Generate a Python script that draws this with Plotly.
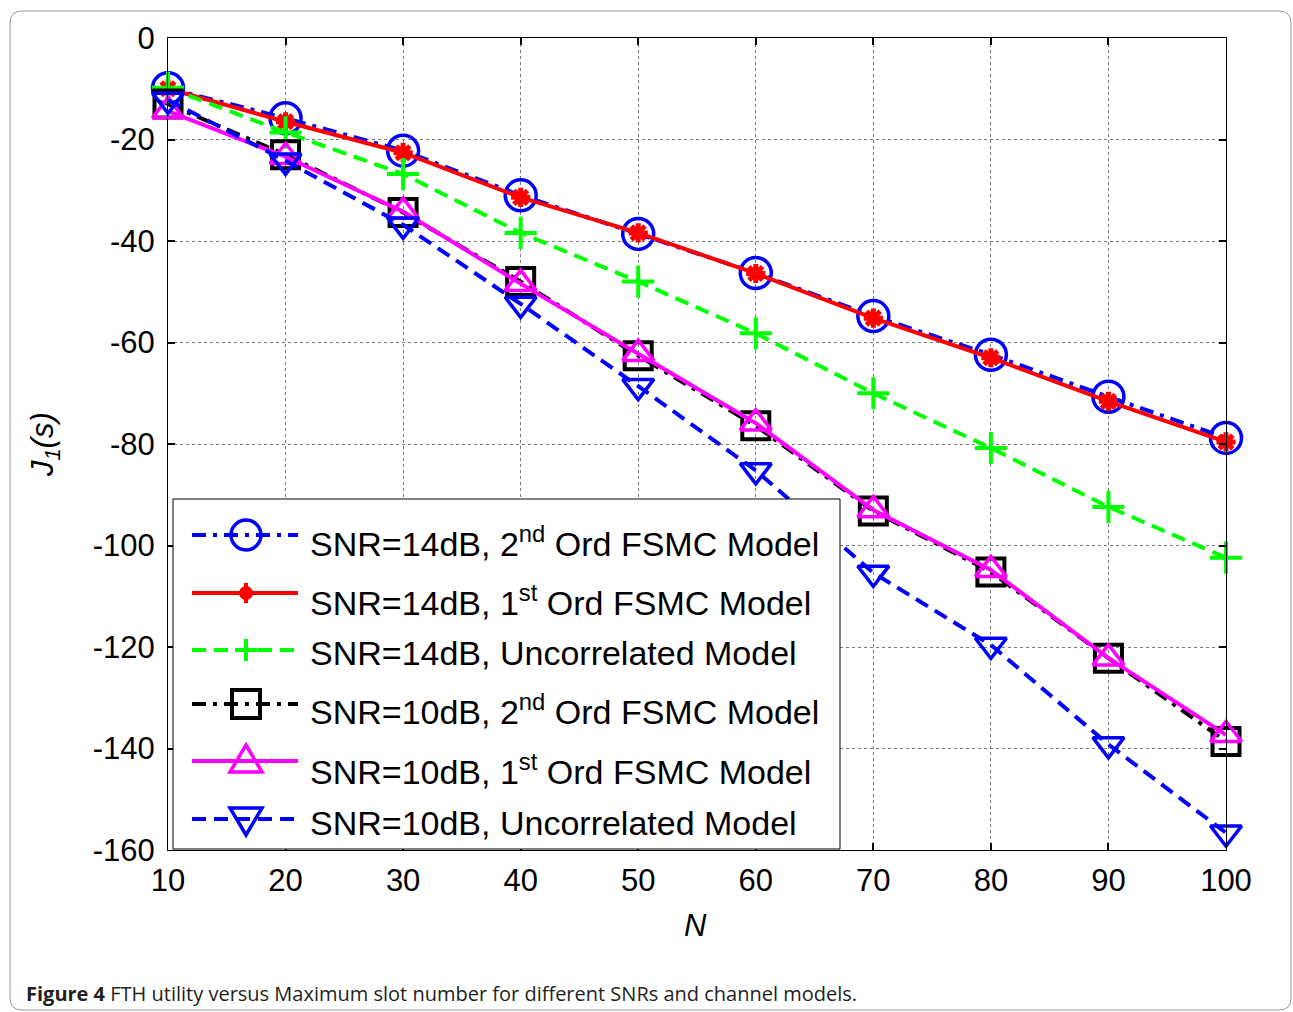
import plotly.graph_objects as go

# ---------------- data ----------------
N = [10, 20, 30, 40, 50, 60, 70, 80, 90, 100]
snr14_2nd = [-9.9, -15.8, -22.2, -31.0, -38.6, -46.3, -54.8, -62.4, -70.7, -78.8]
snr14_1st = [-10.0, -16.5, -22.6, -31.4, -38.4, -46.4, -55.2, -63.0, -71.6, -79.6]
snr14_unc = [-9.8, -18.6, -26.8, -38.4, -48.0, -58.2, -70.0, -80.8, -92.4, -102.4]
snr10_2nd = [-13.0, -23.0, -34.4, -48.0, -62.6, -76.4, -93.2, -105.2, -122.2, -138.6]
snr10_1st = [-14.4, -23.4, -34.2, -48.4, -62.2, -75.9, -93.0, -104.8, -122.2, -137.3]
snr10_unc = [-12.2, -24.2, -36.8, -52.4, -68.6, -85.2, -105.4, -119.6, -139.2, -156.6]

labels = [
    "SNR=14dB, 2<sup>nd</sup> Ord FSMC Model",
    "SNR=14dB, 1<sup>st</sup> Ord FSMC Model",
    "SNR=14dB, Uncorrelated Model",
    "SNR=10dB, 2<sup>nd</sup> Ord FSMC Model",
    "SNR=10dB, 1<sup>st</sup> Ord FSMC Model",
    "SNR=10dB, Uncorrelated Model",
]
xticks = [10, 20, 30, 40, 50, 60, 70, 80, 90, 100]
yticks = [0, -20, -40, -60, -80, -100, -120, -140, -160]
ytick_text = ["0", "-20", "-40", "-60", "-80", "-100", "-120", "-140", "-160"]

# ---------------- geometry helpers ----------------
W, H = 1293, 1012
L, R, T, B = 168, 1226, 38, 850
PW, PH = R - L, B - T


def px(x):
    return (x - L) / PW


def py(y):
    return (B - y) / PH


BLUE = "#0000FF"
RED = "#FF0000"
GREEN = "#00FF00"
BLACK = "#000000"
MAG = "#FF00FF"

DASHDOT = "14px,7px,4px,7px"
DASH = "14px,8px"

series = [
    dict(y=snr14_2nd, color=BLUE, dash=DASHDOT, symbol="circle-open", size=31, mw=3.5),
    dict(y=snr14_1st, color=RED, dash="solid", symbol="asterisk-open", size=16, mw=5),
    dict(y=snr14_unc, color=GREEN, dash=DASH, symbol="cross-thin-open", size=23, mw=4),
    dict(y=snr10_2nd, color=BLACK, dash=DASHDOT, symbol="square-open", size=27, mw=4),
    dict(y=snr10_1st, color=MAG, dash="solid", symbol="triangle-up-open", size=27, mw=3.5),
    dict(y=snr10_unc, color=BLUE, dash=DASH, symbol="triangle-down-open", size=27, mw=3.5),
]

fig = go.Figure()
for s, name in zip(series, labels):
    fig.add_trace(go.Scatter(
        x=N, y=s["y"], mode="lines+markers", name=name, showlegend=False,
        cliponaxis=False,
        line=dict(color=s["color"], width=4, dash=s["dash"]),
        marker=dict(symbol=s["symbol"], size=s["size"], color=s["color"],
                    line=dict(color=s["color"], width=s["mw"])),
    ))

shapes = []
annotations = []

# outer frame (rounded)
fl, ft, fr, fb, rr = 10, 11, 1291, 1010, 12
path = (f"M {px(fl)},{py(fb - rr)} L {px(fl)},{py(ft + rr)} "
        f"Q {px(fl)},{py(ft)} {px(fl + rr)},{py(ft)} L {px(fr - rr)},{py(ft)} "
        f"Q {px(fr)},{py(ft)} {px(fr)},{py(ft + rr)} L {px(fr)},{py(fb - rr)} "
        f"Q {px(fr)},{py(fb)} {px(fr - rr)},{py(fb)} L {px(fl + rr)},{py(fb)} "
        f"Q {px(fl)},{py(fb)} {px(fl)},{py(fb - rr)} Z")
shapes.append(dict(type="path", xref="paper", yref="paper", path=path,
                   line=dict(color="#9a9a9a", width=1), layer="below"))

# legend box
shapes.append(dict(type="rect", xref="paper", yref="paper",
                   x0=px(173), x1=px(840), y0=py(849), y1=py(499),
                   fillcolor="white", line=dict(color=BLACK, width=1), layer="above"))

row_line_y = [535, 593, 650, 704, 761, 819]
row_text_y = [541, 600, 653, 709, 769, 823]
lx0, lx1, lxm = 192, 298, 246

for i, (s, name) in enumerate(zip(series, labels)):
    yy = row_line_y[i]
    shapes.append(dict(type="line", xref="paper", yref="paper",
                       x0=px(lx0), x1=px(lx1), y0=py(yy), y1=py(yy),
                       line=dict(color=s["color"], width=4, dash=s["dash"]), layer="above"))
    c = s["color"]
    if i == 0:
        r = 15
        shapes.append(dict(type="circle", xref="paper", yref="paper",
                           x0=px(lxm - r), x1=px(lxm + r), y0=py(yy + r), y1=py(yy - r),
                           line=dict(color=c, width=3.5), layer="above"))
    elif i == 1:
        r = 6
        shapes.append(dict(type="circle", xref="paper", yref="paper",
                           x0=px(lxm - r), x1=px(lxm + r), y0=py(yy + r), y1=py(yy - r),
                           fillcolor=c, line=dict(color=c, width=2), layer="above"))
        p = (f"M {px(lxm)},{py(yy - 10)} L {px(lxm)},{py(yy + 10)} "
             f"M {px(lxm - 8)},{py(yy)} L {px(lxm + 8)},{py(yy)}")
        shapes.append(dict(type="path", xref="paper", yref="paper", path=p,
                           line=dict(color=c, width=4), layer="above"))
    elif i == 2:
        p = (f"M {px(lxm)},{py(yy - 11)} L {px(lxm)},{py(yy + 11)} "
             f"M {px(lxm - 11)},{py(yy)} L {px(lxm + 11)},{py(yy)}")
        shapes.append(dict(type="path", xref="paper", yref="paper", path=p,
                           line=dict(color=c, width=4), layer="above"))
    elif i == 3:
        r = 14
        shapes.append(dict(type="rect", xref="paper", yref="paper",
                           x0=px(lxm - r), x1=px(lxm + r), y0=py(yy + r), y1=py(yy - r),
                           line=dict(color=c, width=4), layer="above"))
    elif i == 4:
        p = (f"M {px(lxm)},{py(yy - 16)} L {px(lxm + 16)},{py(yy + 11)} "
             f"L {px(lxm - 16)},{py(yy + 11)} Z")
        shapes.append(dict(type="path", xref="paper", yref="paper", path=p,
                           line=dict(color=c, width=3.5), layer="above"))
    else:
        p = (f"M {px(lxm)},{py(yy + 16)} L {px(lxm + 16)},{py(yy - 11)} "
             f"L {px(lxm - 16)},{py(yy - 11)} Z")
        shapes.append(dict(type="path", xref="paper", yref="paper", path=p,
                           line=dict(color=c, width=3.5), layer="above"))
    annotations.append(dict(xref="paper", yref="paper", x=px(308), y=py(row_text_y[i]),
                            xanchor="left", yanchor="middle", text=name, showarrow=False,
                            font=dict(family="Liberation Sans, Arial", size=34, color=BLACK)))

# axis titles
annotations.append(dict(xref="paper", yref="paper", x=px(695), y=py(925), text="<i>N</i>",
                        showarrow=False, xanchor="center", yanchor="middle",
                        font=dict(family="Liberation Sans, Arial", size=31, color=BLACK)))
annotations.append(dict(xref="paper", yref="paper", x=px(45), y=py(445),
                        text="<i>J<sub>1</sub>(s)</i>", textangle=-90,
                        showarrow=False, xanchor="center", yanchor="middle",
                        font=dict(family="Liberation Sans, Arial", size=31, color=BLACK)))
# caption
annotations.append(dict(xref="paper", yref="paper", x=px(24), y=py(993),
                        text="<b>Figure 4</b> FTH utility versus Maximum slot number for different SNRs and channel models.",
                        showarrow=False, xanchor="left", yanchor="middle",
                        font=dict(family="Open Sans", size=20, color="#231f20")))

axis_common = dict(showline=True, linecolor=BLACK, linewidth=1, mirror="ticks",
                   ticks="inside", ticklen=7, tickcolor=BLACK, tickwidth=1.5,
                   showgrid=True, gridcolor="#7a7a7a", gridwidth=1, griddash="dot",
                   zeroline=False,
                   tickfont=dict(family="Liberation Sans, Arial", size=31, color=BLACK))

fig.update_layout(
    width=W, height=H,
    margin=dict(l=L, r=W - R, t=T, b=H - B),
    paper_bgcolor="white", plot_bgcolor="white",
    showlegend=False,
    shapes=shapes, annotations=annotations,
    xaxis=dict(range=[10, 100], tickvals=xticks, ticktext=[str(v) for v in xticks],
               ticklabelstandoff=3, **axis_common),
    yaxis=dict(range=[-160, 0], tickvals=yticks, ticktext=ytick_text,
               ticklabelstandoff=6, **axis_common),
)

fig.write_html("out.html")
